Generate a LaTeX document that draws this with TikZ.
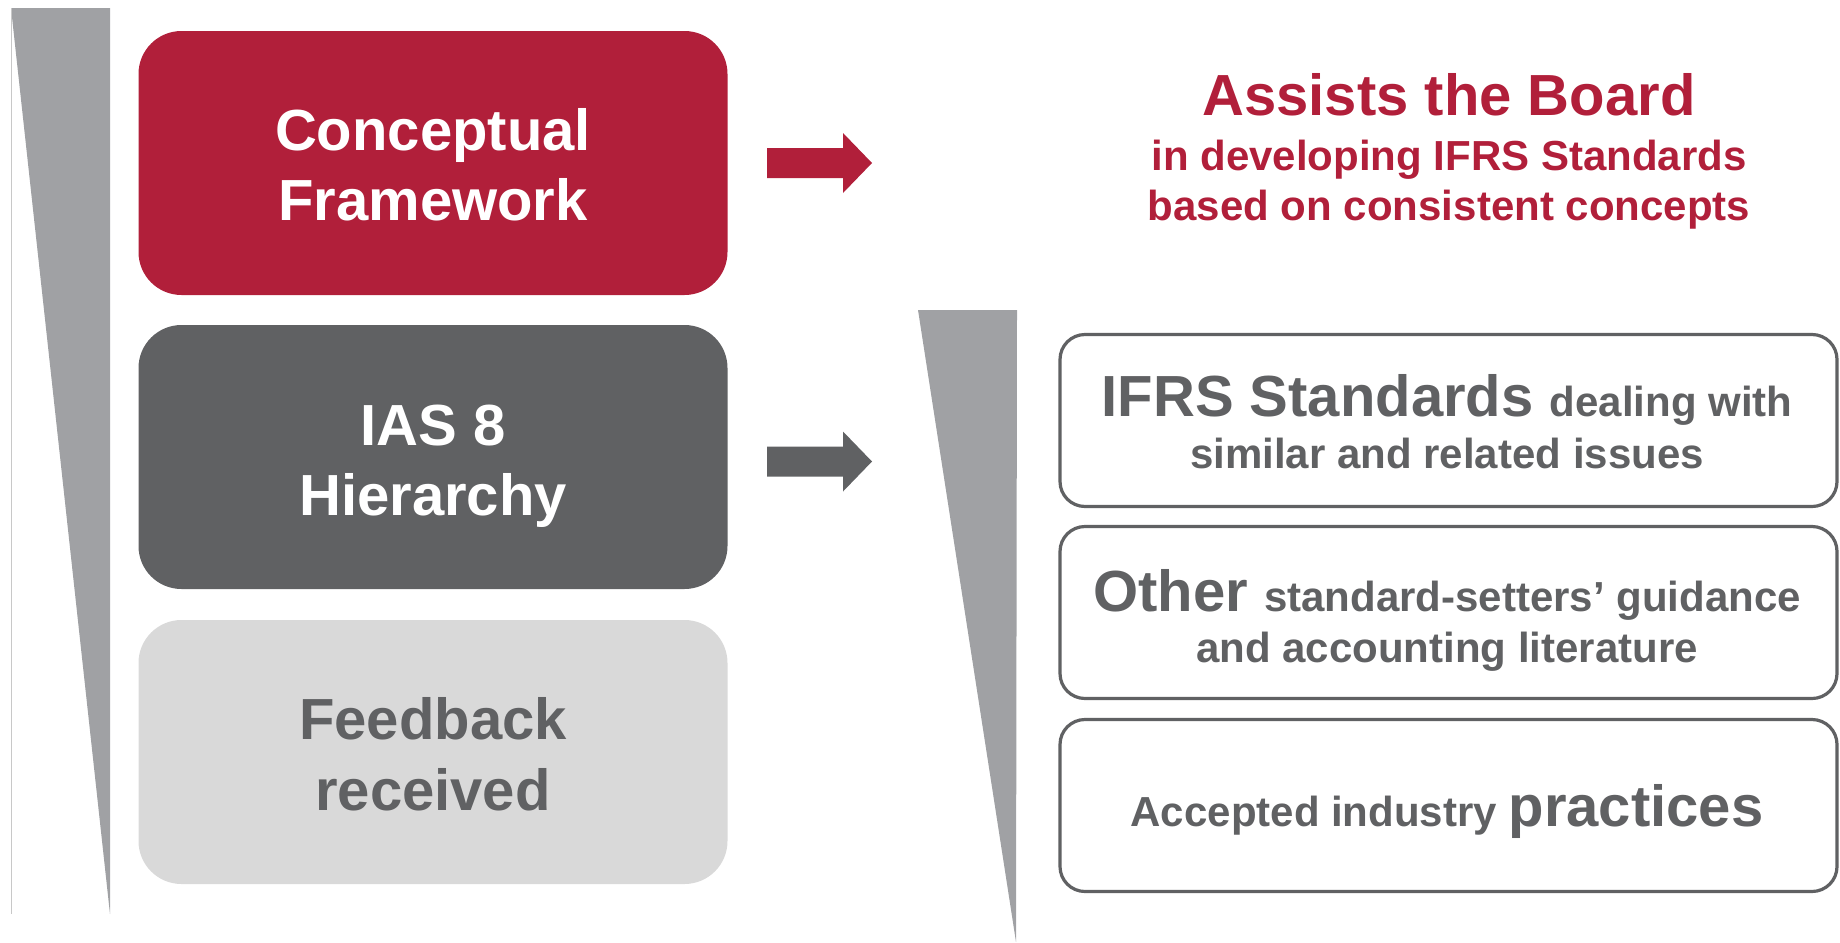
\documentclass[tikz,border=0pt]{standalone}
\usepackage{fontspec}
\setmainfont{Liberation Sans}
\definecolor{ifrsred}{RGB}{177,31,58}
\definecolor{dgray}{RGB}{96,97,99}
\definecolor{lgray}{RGB}{217,217,217}
\definecolor{wgray}{RGB}{160,161,164}
\definecolor{lineg}{RGB}{200,200,200}
\newcommand{\bigf}{\fontsize{29}{35}\selectfont\bfseries}
\newcommand{\smallf}{\fontsize{21}{25}\selectfont\bfseries}
\tikzset{
  leftbox/.style={rectangle, rounded corners=21.5pt, inner sep=0pt,
    minimum width=294.5pt, minimum height=132pt},
  rightbox/.style={rectangle, rounded corners=12.5pt, inner sep=0pt,
    draw=dgray, line width=1.6pt, fill=white,
    minimum width=388.5pt, minimum height=86pt},
  txt/.style={anchor=base, inner sep=0pt, outer sep=0pt},
  wedge/.style={fill=wgray}
}
\begin{document}
\begin{tikzpicture}[x=0.5pt, y=-0.5pt]
\useasboundingbox (0,0) rectangle (1840,942);
% left wedge
\fill[wedge] (11,8) -- (110,8) -- (110,914) -- cycle;
\draw[lineg, line width=0.5pt] (11,8) -- (11,914);
% right wedge
\fill[wedge] (918,310) -- (1017,310) -- (1016,942) -- cycle;

% left boxes
\node[leftbox, fill=ifrsred] (cf) at (433,163) {};
\node[leftbox, fill=dgray] (ias) at (433,457) {};
\node[leftbox, fill=lgray] (fb) at (433,752) {};

\node[txt, text=white] (cf1) at (433,150) {\bigf Conceptual};
\node[txt, text=white] (cf2) at (433,220) {\bigf Framework};
\node[txt, text=white] (ias1) at (433,445) {\bigf IAS 8};
\node[txt, text=white] (ias2) at (433,515) {\bigf Hierarchy};
\node[txt, text=dgray] (fb1) at (433,739) {\bigf Feedback};
\node[txt, text=dgray] (fb2) at (433,810) {\bigf received};

% arrows
\coordinate (a1) at (767,163);
\coordinate (a2) at (767,461.5);
\fill[ifrsred] (a1) ++(0,-15) -- ++(76,0) -- ++(0,-15) -- ++(29,30) -- ++(-29,30) -- ++(0,-15) -- ++(-76,0) -- cycle;
\fill[dgray] (a2) ++(0,-15) -- ++(76,0) -- ++(0,-15) -- ++(29,30) -- ++(-29,30) -- ++(0,-15) -- ++(-76,0) -- cycle;

% title
\node[txt, text=ifrsred] (t1) at (1449,115) {\bigf Assists the Board};
\node[txt, text=ifrsred] (t2) at (1449,170) {\smallf in developing IFRS Standards};
\node[txt, text=ifrsred] (t3) at (1449,220) {\smallf based on consistent concepts};

% right boxes
\node[rightbox] (ba) at (1448.5,420.5) {};
\node[rightbox] (bb) at (1448.5,612.5) {};
\node[rightbox] (bc) at (1448.5,805.5) {};

\node[txt, text=dgray] (ba1) at (1447,416) {\bigf IFRS Standards \smallf dealing with};
\node[txt, text=dgray] (ba2) at (1447,468) {\smallf similar and related issues};
\node[txt, text=dgray] (bb1) at (1447,611) {\bigf Other \smallf standard-setters’ guidance};
\node[txt, text=dgray] (bb2) at (1447,662) {\smallf and accounting literature};
\node[txt, text=dgray] (bc1) at (1447,826) {\smallf Accepted industry \bigf practices};
\end{tikzpicture}
\end{document}
